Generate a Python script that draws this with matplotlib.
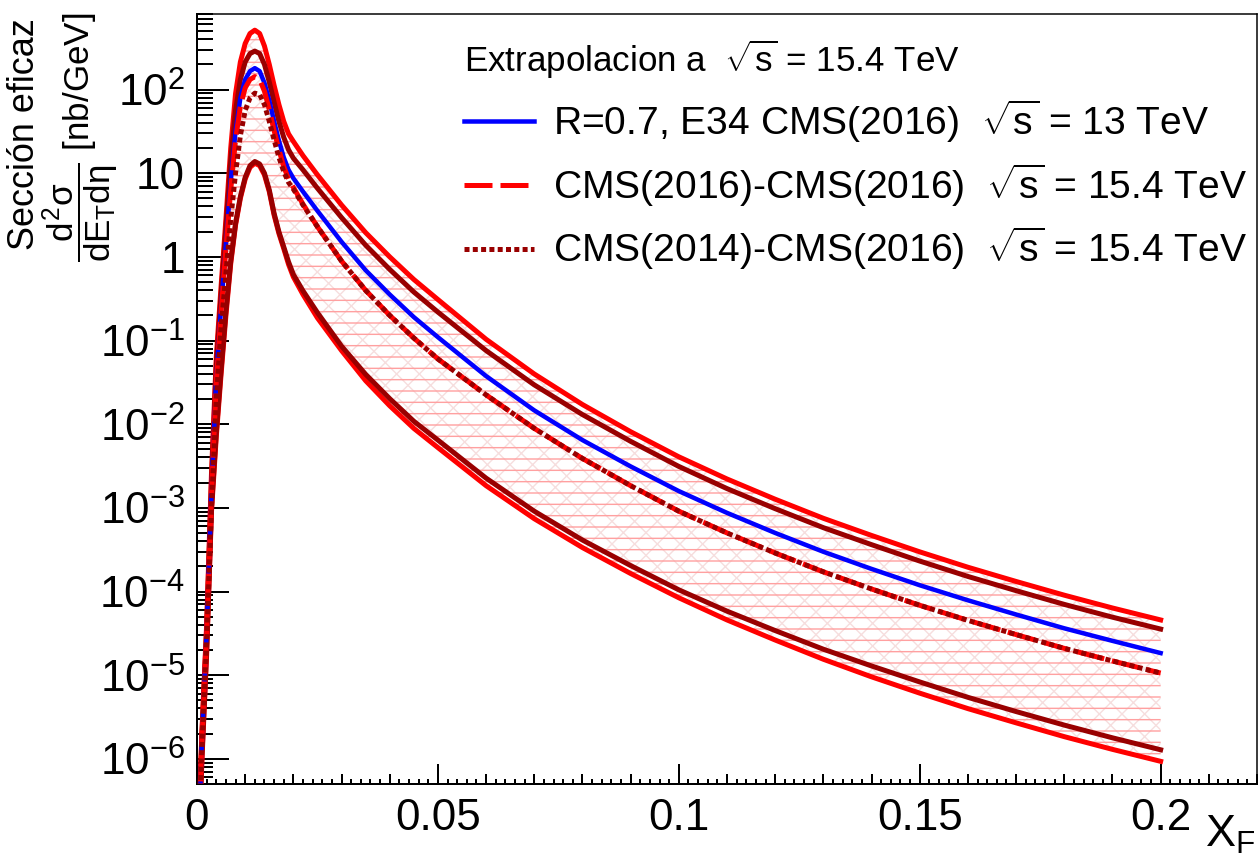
import numpy as np
import matplotlib
matplotlib.use('Agg')
import matplotlib.pyplot as plt
from matplotlib.ticker import FixedLocator, FixedFormatter, MultipleLocator, LogLocator, NullFormatter

W, H, DPI = 1259, 865, 68


def pt(pixels):
    # pixel size -> points at the figure dpi
    return pixels * 72.0 / DPI


# x_F grid and log10 of the cross sections
x_f = [0.0005, 0.001, 0.002, 0.003, 0.004, 0.005, 0.006, 0.007, 0.008, 0.009, 0.010,
       0.011, 0.012, 0.013, 0.014, 0.015, 0.016, 0.017, 0.018, 0.019, 0.020,
       0.022, 0.025, 0.030, 0.035, 0.040, 0.045, 0.050,
       0.06, 0.07, 0.08, 0.09, 0.10, 0.11, 0.12, 0.13, 0.14, 0.15, 0.16, 0.17, 0.18, 0.19, 0.20]

upper_red = [-6.6, -5.7, -4.4, -2.6, -1.2, -0.35, 0.45, 1.3, 1.95, 2.33, 2.55,
             2.67, 2.71, 2.67, 2.52, 2.30, 2.05, 1.82, 1.62, 1.47, 1.38,
             1.21, 0.98, 0.62, 0.29, 0.00, -0.27, -0.51,
             -0.985, -1.40, -1.765, -2.09, -2.39, -2.655, -2.897, -3.125, -3.33, -3.526, -3.71, -3.88, -4.044, -4.197, -4.34]
upper_darkred = [-6.65, -5.75, -4.45, -2.7, -1.3, -0.45, 0.35, 1.15, 1.75, 2.12, 2.33,
                 2.43, 2.46, 2.43, 2.30, 2.09, 1.85, 1.62, 1.43, 1.28, 1.18,
                 1.04, 0.82, 0.47, 0.14, -0.15, -0.42, -0.66,
                 -1.12, -1.53, -1.885, -2.205, -2.505, -2.77, -3.01, -3.237, -3.44, -3.636, -3.82, -3.99, -4.154, -4.307, -4.449]
blue_13tev = [-6.7, -5.8, -4.5, -2.8, -1.45, -0.6, 0.15, 0.9, 1.5, 1.9, 2.12,
              2.22, 2.256, 2.22, 2.08, 1.87, 1.62, 1.39, 1.19, 1.04, 0.94,
              0.78, 0.55, 0.18, -0.16, -0.45, -0.72, -0.96,
              -1.425, -1.835, -2.19, -2.505, -2.80, -3.06, -3.30, -3.525, -3.73, -3.925, -4.105, -4.275, -4.44, -4.59, -4.736]
cms16_cms16 = [-6.7, -5.8, -4.5, -2.85, -1.5, -0.65, 0.1, 0.8, 1.4, 1.8, 2.02,
               2.12, 2.155, 2.12, 1.98, 1.76, 1.51, 1.28, 1.08, 0.93, 0.83,
               0.63, 0.36, -0.05, -0.40, -0.70, -0.97, -1.22,
               -1.65, -2.05, -2.41, -2.735, -3.04, -3.30, -3.54, -3.765, -3.97, -4.165, -4.345, -4.515, -4.68, -4.83, -4.975]
cms14_cms16 = [-6.75, -5.85, -4.6, -3.0, -1.7, -0.85, -0.2, 0.45, 1.0, 1.45, 1.75,
               1.9, 1.957, 1.94, 1.82, 1.62, 1.40, 1.19, 1.02, 0.89, 0.81,
               0.62, 0.36, -0.05, -0.40, -0.70, -0.97, -1.22,
               -1.65, -2.05, -2.41, -2.735, -3.04, -3.30, -3.54, -3.765, -3.97, -4.165, -4.345, -4.515, -4.68, -4.83, -4.975]
lower_darkred = [-6.8, -6.0, -4.7, -3.0, -2.1, -1.35, -0.65, -0.05, 0.4, 0.72, 0.95,
                 1.09, 1.14, 1.11, 1.0, 0.80, 0.52, 0.30, 0.12, -0.06, -0.21,
                 -0.406, -0.667, -1.067, -1.404, -1.695, -1.965, -2.19,
                 -2.645, -3.04, -3.385, -3.69, -3.98, -4.235, -4.467, -4.69, -4.89, -5.081, -5.265, -5.435, -5.597, -5.749, -5.892]
lower_red = [-6.85, -6.05, -4.75, -3.05, -2.15, -1.4, -0.7, -0.08, 0.38, 0.70, 0.93,
             1.07, 1.12, 1.09, 0.98, 0.78, 0.50, 0.28, 0.10, -0.09, -0.24,
             -0.45, -0.73, -1.12, -1.48, -1.78, -2.05, -2.28,
             -2.735, -3.13, -3.475, -3.785, -4.075, -4.34, -4.58, -4.81, -5.02, -5.215, -5.40, -5.57, -5.735, -5.887, -6.03]

legend_title = 'Extrapolacion a  $\\sqrt{s}$ = 15.4 TeV'
legend_labels = ['R=0.7, E34 CMS(2016)  $\\sqrt{s}$ = 13 TeV',
                 'CMS(2016)-CMS(2016)  $\\sqrt{s}$ = 15.4 TeV',
                 'CMS(2014)-CMS(2016)  $\\sqrt{s}$ = 15.4 TeV']
x_tick_values = [0, 0.05, 0.1, 0.15, 0.2]
x_tick_labels = ['0', '0.05', '0.1', '0.15', '0.2']
y_tick_values = [1e-6, 1e-5, 1e-4, 1e-3, 1e-2, 1e-1, 1, 10, 100]
y_tick_labels = ['$10^{-6}$', '$10^{-5}$', '$10^{-4}$', '$10^{-3}$', '$10^{-2}$',
                 '$10^{-1}$', '1', '10', '$10^{2}$']

plt.rcParams['font.family'] = ['Liberation Sans', 'DejaVu Sans']
plt.rcParams['mathtext.fontset'] = 'custom'
plt.rcParams['mathtext.rm'] = 'Liberation Sans'
plt.rcParams['mathtext.it'] = 'Liberation Sans'
plt.rcParams['mathtext.bf'] = 'Liberation Sans:bold'
plt.rcParams['hatch.linewidth'] = pt(1.4)

RED = '#ff0000'
DARKRED = '#990000'
BLUE = '#0000ff'

fig = plt.figure(figsize=(W / DPI, H / DPI), dpi=DPI)
ax = fig.add_axes([197 / W, 1 - 784 / H, (1257 - 197) / W, (784 - 14) / H])

xs = np.array(x_f)
up = 10.0 ** np.array(upper_red)
lo = 10.0 ** np.array(lower_red)

# hatched uncertainty band between the two outer red curves
ax.fill_between(xs, lo, up, facecolor='none', edgecolor='#f6dede', hatch='x', linewidth=0, zorder=1)
ax.fill_between(xs, lo, up, facecolor='none', edgecolor='#ffa0a0', hatch='-', linewidth=0, zorder=1)

lw = pt(5)
ax.plot(xs, up, color=RED, lw=lw, zorder=3)
ax.plot(xs, lo, color=RED, lw=lw, zorder=3)
ax.plot(xs, 10.0 ** np.array(upper_darkred), color=DARKRED, lw=lw, zorder=3)
ax.plot(xs, 10.0 ** np.array(lower_darkred), color=DARKRED, lw=lw, zorder=3)
l_blue, = ax.plot(xs, 10.0 ** np.array(blue_13tev), color=BLUE, lw=pt(4.5), zorder=4)
l_dash, = ax.plot(xs, 10.0 ** np.array(cms16_cms16), color=RED, lw=lw,
                  linestyle=(0, (5.6, 1.6)), dash_capstyle='butt', zorder=4)
l_dot, = ax.plot(xs, 10.0 ** np.array(cms14_cms16), color=DARKRED, lw=lw,
                 linestyle=(0, (1.0, 0.66)), dash_capstyle='butt', zorder=5)

ax.set_yscale('log')
ax.set_xlim(0, 0.22)
ax.set_ylim(5e-7, 800)

ax.xaxis.set_major_locator(FixedLocator(x_tick_values))
ax.xaxis.set_major_formatter(FixedFormatter(x_tick_labels))
ax.xaxis.set_minor_locator(MultipleLocator(0.002))
ax.yaxis.set_major_locator(FixedLocator(y_tick_values))
ax.yaxis.set_major_formatter(FixedFormatter(y_tick_labels))
ax.yaxis.set_minor_locator(LogLocator(base=10, subs=np.arange(2, 10), numticks=40))
ax.yaxis.set_minor_formatter(NullFormatter())

ax.tick_params(axis='both', which='both', direction='in', top=False, right=False,
               width=pt(2), colors='black')
ax.tick_params(axis='x', which='major', length=pt(20), labelsize=pt(44), pad=pt(14))
ax.tick_params(axis='x', which='minor', length=pt(5))
ax.tick_params(axis='y', which='major', length=pt(32), labelsize=pt(44), pad=pt(12))
ax.tick_params(axis='y', which='minor', length=pt(16))

# medium ticks every 0.01, like the ROOT axis
minor_locs = ax.xaxis.get_minorticklocs()
for loc, tick in zip(minor_locs, ax.xaxis.get_minor_ticks(len(minor_locs))):
    if abs(loc / 0.01 - round(loc / 0.01)) < 1e-6:
        tick.tick1line.set_markersize(pt(10))

for side in ['left', 'bottom']:
    ax.spines[side].set_linewidth(pt(2))
for side in ['top', 'right']:
    ax.spines[side].set_linewidth(pt(1.5))

leg = ax.legend([l_blue, l_dash, l_dot], legend_labels, title=legend_title,
                loc='upper left', bbox_to_anchor=(464 / W, 1 - 38 / H),
                bbox_transform=fig.transFigure, frameon=False,
                prop={'size': pt(39)},
                title_fontproperties={'size': pt(35)},
                alignment='left', handlelength=70 / 39,
                handletextpad=19 / 39, labelspacing=0.42,
                borderpad=0, borderaxespad=0)

fig.text(24 / W, 1 - 18 / H, 'Sección eficaz', rotation=90, ha='center', va='top',
         fontsize=pt(36))
fig.text(81 / W, 1 - 13 / H, r'$\dfrac{d^{2}\sigma}{dE_{T}d\eta}$ [nb/GeV]', rotation=90,
         ha='center', va='top', fontsize=pt(35))
fig.text(1205 / W, 1 - 847 / H, r'X$_{\mathregular{F}}$', ha='left', va='baseline',
         fontsize=pt(45))

fig.savefig('out.png', dpi=DPI)
